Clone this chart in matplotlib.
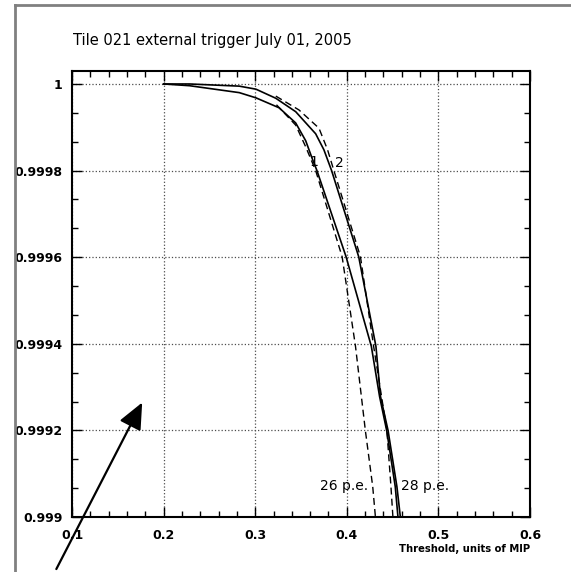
import matplotlib
matplotlib.use('Agg')
import matplotlib.pyplot as plt
from matplotlib.lines import Line2D
from matplotlib.ticker import MultipleLocator, FixedLocator

## DATA

# solid curves, measured efficiency vs threshold
thr_1 = [0.200, 0.2283, 0.2826, 0.3008, 0.3261, 0.3442, 0.3551, 0.3622, 0.3674,
         0.3992, 0.4268, 0.4358, 0.4436, 0.4529, 0.4558, 0.4562]
eff_1 = [1.000000, 0.999996, 0.999980, 0.999968, 0.999945, 0.999910, 0.999869, 0.999828, 0.999800,
         0.999601, 0.999394, 0.999278, 0.999199, 0.999070, 0.999001, 0.998990]

thr_2 = [0.200, 0.2283, 0.2826, 0.3008, 0.3225, 0.3442, 0.3660, 0.3750, 0.3834,
         0.4130, 0.4318, 0.4368, 0.4451, 0.4547, 0.4584, 0.4588]
eff_2 = [1.000000, 1.000000, 0.999995, 0.999988, 0.999967, 0.999936, 0.999885, 0.999848, 0.999800,
         0.999601, 0.999394, 0.999278, 0.999199, 0.999070, 0.999001, 0.998990]

# dashed curves for 26 and 28 p.e.
thr_26 = [0.3232, 0.3442, 0.3551, 0.3660, 0.3949, 0.4095, 0.4203, 0.4283, 0.4312, 0.4315]
eff_26 = [0.999952, 0.999905, 0.999855, 0.999800, 0.999601, 0.999394, 0.999199, 0.999070, 0.999001, 0.998990]

thr_28 = [0.3225, 0.3478, 0.3696, 0.3790, 0.3859, 0.4149, 0.4293, 0.4438, 0.4482, 0.4503, 0.4505]
eff_28 = [0.999972, 0.999940, 0.999898, 0.999848, 0.999800, 0.999601, 0.999394, 0.999199, 0.999070, 0.999001, 0.998990]

x_ticks = [0.1, 0.2, 0.3, 0.4, 0.5, 0.6]
x_labels = ['0.1', '0.2', '0.3', '0.4', '0.5', '0.6']
y_ticks = [0.999, 0.9992, 0.9994, 0.9996, 0.9998, 1.0]
y_labels = ['0.999', '0.9992', '0.9994', '0.9996', '0.9998', '1']

## FIGURE

fig = plt.figure(figsize=(5.71, 5.72), dpi=100)
ax = fig.add_axes([0.1261, 0.0962, 0.8021, 0.7797])

ax.plot(thr_1, eff_1, c='k', lw=1.2)
ax.plot(thr_2, eff_2, c='k', lw=1.2)
ax.plot(thr_26, eff_26, c='k', lw=1.0, ls=(0, (5, 3)))
ax.plot(thr_28, eff_28, c='k', lw=1.0, ls=(0, (5, 3)))

ax.set_xlim(0.1, 0.6)
ax.set_ylim(0.999, 1.00003)

ax.xaxis.set_major_locator(FixedLocator(x_ticks))
ax.yaxis.set_major_locator(FixedLocator(y_ticks))
ax.xaxis.set_minor_locator(MultipleLocator(0.02))
ax.yaxis.set_minor_locator(MultipleLocator(0.0002 / 3))
ax.set_xticklabels(x_labels, fontweight='bold', fontsize=9)
ax.set_yticklabels(y_labels, fontweight='bold', fontsize=9)
ax.tick_params(which='both', direction='in', top=True, right=True, width=1)
ax.tick_params(axis='x', which='major', length=7, pad=9)
ax.tick_params(axis='y', which='major', length=7, pad=7)
ax.tick_params(which='minor', length=4)
ax.grid(True, which='major', ls=':', c='0.3', lw=0.9)

for s in ax.spines.values():
    s.set_linewidth(1.5)

# labels on the plot
ax.text(0.3640, 0.999820, '1', fontsize=10, ha='center', va='center')
ax.text(0.3920, 0.999817, '2', fontsize=10, ha='center', va='center')
ax.text(0.3967, 0.999072, '26 p.e.', fontsize=10, ha='center', va='center')
ax.text(0.4859, 0.999072, '28 p.e.', fontsize=10, ha='center', va='center')

ax.text(1.0, -0.072, 'Threshold, units of MIP', transform=ax.transAxes,
        ha='right', va='center', fontsize=7.2, fontweight='bold')
fig.text(73 / 571, 1 - 40 / 572, 'Tile 021 external trigger July 01, 2005',
         ha='left', va='center', fontsize=10.5)

# arrow pointing into the plot
ax.annotate('', xy=(0.1780, 0.999270), xytext=(0.0815, 0.998874),
            arrowprops=dict(arrowstyle='-|>,head_length=0.9,head_width=0.4',
                            color='k', lw=1.6, mutation_scale=18),
            annotation_clip=False)

# grey frame on the canvas
fig.add_artist(Line2D([15 / 571, 15 / 571], [0, 1 - 5 / 572], c='0.5', lw=2))
fig.add_artist(Line2D([15 / 571, 1], [1 - 5 / 572, 1 - 5 / 572], c='0.5', lw=2))

fig.savefig('out.png', dpi=100)
